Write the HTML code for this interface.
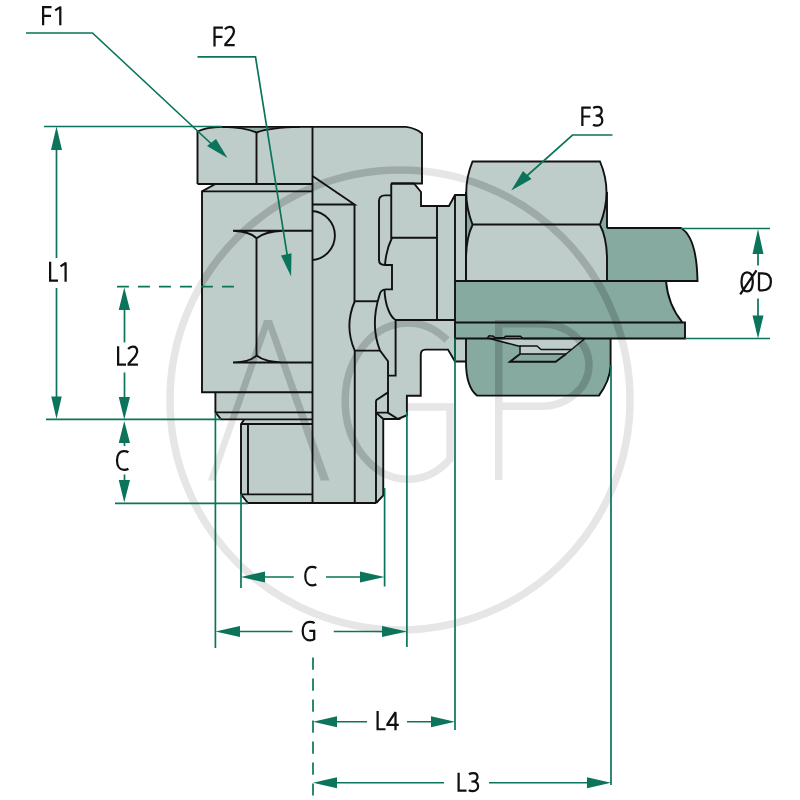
<!DOCTYPE html>
<html><head><meta charset="utf-8">
<style>
html,body{margin:0;padding:0;background:#fff;width:800px;height:800px;overflow:hidden}
svg{display:block}
</style></head><body>
<svg width="800" height="800" viewBox="0 0 800 800">
<rect width="800" height="800" fill="#fff"/>

<defs>
<g id="wm">
  <circle cx="400" cy="400" r="230" fill="none" stroke-width="7.5"/>
  <path fill="none" stroke-width="7.5" d="M447,340 A62.7,78.15 0 1 0 450,459 V407 H408"/>
  <path fill="none" stroke-width="7.5" d="M498.75,480 V323.75 H541 A48,41.25 0 0 1 541,406.25 H498.75"/>
  <path stroke="none" d="M264,320 H272 L329.5,480.6 H320.75 L268.1,329 L214.9,480.6 H207.9 Z"/>
</g>
<clipPath id="silclip"><path d="M197.5,184 V131.5 Q206,127.2 222,126.9 L406,126.9 Q416,128.2 422,133.5 V183.5 H414 L421,192 V206 H449 L455,195 H466 V192.75 Q466.25,176.5 472.5,161.5 H600 Q606.5,176.5 606.5,192.75 V228 H681 C691,234 697,252 697.5,281 H666 Q668,305 682.5,322.5 H685 V338.5 H610.6 V366 C610,378 606,386 598.9,395.6 H477 C470,390 466,378 466,362 V361.5 H455 L448,349.6 H425.5 Q420.75,349.6 420.75,355 V395.75 H406.9 V415.25 L397.9,419 H383.25 V495.5 L376.25,503 H248 L241,494.4 V424 L244,419.9 H221 L215.4,412.4 V392.25 H202 V191.4 L215.4,184 Z"/></clipPath>
</defs>
<!-- watermark on white -->
<use href="#wm" stroke="#e6e6e6" fill="#e6e6e6"/>
<!-- light gray silhouette -->
<path fill="#bfcdca" d="M197.5,184 V131.5 Q206,127.2 222,126.9 L406,126.9 Q416,128.2 422,133.5 V183.5 H414 L421,192 V206 H449 L455,195 H466 V192.75 Q466.25,176.5 472.5,161.5 H600 Q606.5,176.5 606.5,192.75 V228 H681 C691,234 697,252 697.5,281 H666 Q668,305 682.5,322.5 H685 V338.5 H610.6 V366 C610,378 606,386 598.9,395.6 H477 C470,390 466,378 466,362 V361.5 H455 L448,349.6 H425.5 Q420.75,349.6 420.75,355 V395.75 H406.9 V415.25 L397.9,419 H383.25 V495.5 L376.25,503 H248 L241,494.4 V424 L244,419.9 H221 L215.4,412.4 V392.25 H202 V191.4 L215.4,184 Z"/>

<!-- dark green fills -->
<g fill="#86aaa0">
  <path d="M607,228 H681 C691,234 697,252 697.5,281 H607 Z"/>
  <path d="M455,281 H666 Q668,305 682.5,322.5 H685 V338.5 H455 Z"/>
  <path d="M466,338.5 H610.6 V366 C610,378 606,386 598.9,395.6 H477 C470,390 466,378 466,362 Z"/>
  <path d="M466,192 Q467,212 472.5,224.5 Q466,238 466,250 Z"/>
  <path d="M607,192 Q606,212 600,224.5 Q607,238 607,250 Z"/>
  <path d="M238,126.9 Q250,128.5 256.5,132.5 Q264,128.5 280,126.9 Z" fill="#94b1a7"/>
</g>
<!-- ring -->
<path fill="#bfcdca" stroke="#111" stroke-width="1.5" stroke-linejoin="round" d="M487.5,338 L489,335.8 L493.5,336.2 L495,337.8 L504,337.8 L505.5,336.2 L520.5,336.2 L522.75,338.5 L585,338.5 L566,354 L520,354 V346 L518.25,346 Z"/>

<!-- watermark over part -->
<g clip-path="url(#silclip)" opacity="0.17"><use href="#wm" stroke="#000" fill="#000"/></g>
<!-- black outlines -->
<g fill="none" stroke="#111" stroke-width="1.9" stroke-linejoin="miter">
  <!-- F1 nut -->
  <path d="M197.5,184 V131.5 Q206,127.2 222,126.9 H406 Q416,128.2 422,133.5 V183.5 H391"/>
  <path d="M197.5,184 H312.5"/>
  <path d="M222,126.9 Q245,127.4 256.5,132.5 Q270,127.4 300,126.9"/>
  <path d="M256.5,132.5 V184"/>
  <!-- F2 body -->
  <path d="M215.4,184 L202,191.4 V392.25 H312.5"/>
  <path d="M202,191.4 H312.5"/>
  <path d="M233,230.8 H312.5 M233,230.8 Q250,231.5 256.5,238.3 Q265,231.5 282.7,230.8"/>
  <path d="M256.5,238.3 V355.6"/>
  <path d="M233,362.5 H312.5 M233,362.5 Q250,362 256.5,355.6 Q265,362 282,362.5"/>
  <!-- collar + thread -->
  <path d="M215.4,392.25 V412.4 L221,419.4 H312.5 M215.4,412.4 H312.5"/>
  <path d="M244,419.9 L241,424 V494.4 L248,503 H376.25 M241,424 H312.5 M248,424 V494.4 M241,494.4 H312.5"/>
  <!-- central column -->
  <path d="M312.5,126.9 V503"/>
  <path d="M312.5,176 L354.5,204.5 H312.5 M354.5,204.5 V301.25 M354.75,350.6 V503"/>
  <path d="M312.5,211 A24.6,24.6 0 0 1 312.5,260"/>
  <path d="M354.75,301.25 H378"/>
  <!-- middle hex -->
  <path d="M354.75,301.25 Q344,326 354.75,350.6 H380"/>
  <path d="M386,289.4 Q380.5,289.6 379.5,295 Q370,325 380,350.6 L388,361.25 V412.6"/>
  <path d="M376,400.25 L388,392.4 M376,400.25 V503 M376,412.6 H388 M376,412.6 L383.25,419 V495.5 L376.25,503"/>
  <path d="M387.75,412.6 L397.9,419 H383.25 M397.9,419 L406.9,415.25 V395.75 H420.75 V355 Q420.75,349.6 425.5,349.6 H448 L455,361.5 H466"/>
  <!-- rounded bar -->
  <path d="M391.25,195.4 H385 Q379,195.4 379,201 V260 Q379,265 385,265 H392 V289.4 H386"/>
  <!-- block -->
  <path d="M391.25,183.5 V237.75 H437 M391.25,183.5 H414 L421,192 V206 H449 L455,195 H466"/>
  <path d="M391.9,238 Q386,250 385,265"/>
  <path d="M437,206 V320 M384.5,289.6 C385,305 390,317 395.6,320 V375.6 H388 M395.6,320 H455"/>
  <path d="M455,195 V361"/>
  <!-- F3 nut -->
  
  <path d="M472.5,161.5 Q460,192 472.5,224.5 H600 Q613,192 600,161.5 Z"/>
  <path d="M472.5,225 Q466,238 466,260 V280 M600,225 Q607,238 607,260 V280"/>
  <path d="M466,192 V280 M607,192 V228"/>
  <!-- tube -->
  <path d="M607,228 H681 C691,234 697,252 697.5,281 H455"/>
  <path d="M666,281 Q668,305 682.5,322.5 H685 V338.5 H455 M455,322.5 H682.5"/>
  <!-- lower nut -->
  <path d="M466,338.5 V362 C466,378 470,390 477,395.6 H598.9 C606,386 610,378 610.6,366 V338.5"/>
  <!-- ring -->
  <path d="M520,346 H537 L541,349.5 H571.5" stroke-width="1.5"/>
  <path d="M520,354 L510,361.7 H555.7 L566,354"/>
</g>

<!-- green dimension lines -->
<g fill="none" stroke="#0b745a" stroke-width="1.7">
  <path d="M26,33 H92.5 L219,151"/>
  <path d="M197.5,56.8 H255.5 L288,260"/>
  <path d="M612.5,135 H572.5 L520,182"/>
  <path d="M44,126.5 H222"/>
  <path d="M56.5,140 V258 M56.5,288 V405"/>
  <path d="M117,286.7 H234" stroke-dasharray="11.9,9.1"/>
  <path d="M124.5,300 V342.5 M124.5,372.5 V405"/>
  <path d="M46,419.4 H221"/>
  <path d="M124.5,430 V446 M124.5,474.5 V490"/>
  <path d="M115,503.4 H248"/>
  <path d="M215.4,413 V648 M241,494 V588 M384.6,488 V586.5 M406.9,412 V647 M455,338.5 V730 M611,365 V785"/>
  <path d="M250,577 H293.75 M326,577 H372"/>
  <path d="M225,631.5 H292.5 M333.75,631.5 H395"/>
  <path d="M313,657.5 V795.5" stroke-dasharray="12.2,8.8"/>
  <path d="M325,721.75 H367 M407,721.75 H443"/>
  <path d="M325,782.75 H444 M489,782.75 H600"/>
  <path d="M681,228.5 H770 M685,338.5 H770"/>
  <path d="M758,252 V265.5 M758,298.5 V317"/>
</g>
<g fill="#0b745a">
  <!-- arrowheads -->
  <path d="M227.5,158 L207,146 L216,139 Z"/>
  <path d="M291.1,276.5 L281,255.5 L291.5,253.25 Z"/>
  <path d="M511.25,190.6 L523,171 L531.5,179 Z"/>
  <path d="M56.5,126.5 L51,150 H62 Z M56.5,419 L51.25,396.5 H61.75 Z"/>
  <path d="M124.25,287.5 L118.75,310 H130 Z M124.25,419.4 L118.75,397 H130 Z"/>
  <path d="M124.25,421 L118.75,443 H130 Z M124.25,502.5 L118.75,480 H130 Z"/>
  <path d="M241,577 L265,571.5 V582.5 Z M384.6,577 L360,571.5 V582.5 Z"/>
  <path d="M215.4,631.5 L240,626 V637 Z M406.9,631.5 L382,626 V637 Z"/>
  <path d="M313,721.75 L337,716.25 V727.25 Z M455,721.75 L431,716.25 V727.25 Z"/>
  <path d="M313,782.75 L337,777.25 V788.25 Z M611,782.75 L587,777.25 V788.25 Z"/>
  <path d="M758,229 L752.5,254 H763.5 Z M758,338.5 L752.5,315.5 H763.5 Z"/>
</g>

<!-- labels -->
<defs>
  <path id="gF" d="M1.12,20 V1.12 H9.5 M1.12,10.3 H9"/>
  <path id="g1" d="M5.8,20 V0.6 M6.2,0.9 L0.7,4.6"/>
  <path id="g2" d="M0.9,3.0 C2.5,1.2 4.0,0.6 5.6,0.6 C8.6,0.6 9.9,2.6 9.9,5.2 C9.9,8.4 7.8,10.8 4.6,14.2 L1.4,17.8 V18.9 H10.7"/>
  <path id="g3" d="M1.0,1.8 C2.2,1.0 3.8,0.6 5.3,0.6 C8.2,0.6 9.5,2.3 9.5,4.8 C9.5,7.6 7.3,9.4 4.4,9.4 H3.4 M4.4,9.4 C7.9,9.4 10.1,11.3 10.1,14.3 C10.1,17.3 7.8,19.4 4.8,19.4 C3.1,19.4 1.6,19 0.8,18.4"/>
  <path id="gL" d="M1.12,0 V18.88 H9"/>
  <path id="gC" d="M12.5,1.8 C11.3,1.0 9.8,0.6 8.0,0.6 C3.6,0.6 1.1,4.2 1.1,10.1 C1.1,15.9 3.9,19.4 8.1,19.4 C9.7,19.4 11.4,19.0 12.5,18.3"/>
  <path id="gG" d="M13,1.9 C11.8,1.1 10.2,0.6 8.2,0.6 C3.8,0.6 1.1,4.3 1.1,10.1 C1.1,16 3.9,19.4 8.3,19.4 C10.3,19.4 11.8,18.9 12.6,18.3 V9.9 H7.7"/>
  <path id="g4" d="M9,20 V1.2 L0.9,13.9 V14.3 H12.25"/>
  <path id="gO" d="M7.85,2.0 C4.3,2.0 2.2,5.5 2.2,11.55 C2.2,17.6 4.3,21.1 7.85,21.1 C11.4,21.1 13.5,17.6 13.5,11.55 C13.5,5.5 11.4,2.0 7.85,2.0 Z M0.9,24 L17.2,0"/>
  <path id="gD" d="M1.1,19 V1.1 H4.6 C10.2,1.1 13.0,4.2 13.0,9.9 C13.0,15.7 10.2,18.9 4.6,18.9 H1.1"/>
</defs>
<g fill="none" stroke="#111" stroke-width="2.25" stroke-linejoin="miter" stroke-miterlimit="2.5">
  <use href="#gF" transform="translate(42,6) scale(1,0.96)"/>
  <use href="#g1" transform="translate(54.5,6) scale(1,0.96)"/>
  <use href="#gF" transform="translate(213.4,26.6)"/>
  <use href="#g2" transform="translate(224,26.3)"/>
  <use href="#gF" transform="translate(581.25,106.5) scale(1,0.97)"/>
  <use href="#g3" transform="translate(592.2,106.2)"/>
  <use href="#gL" transform="translate(49,261.8)"/>
  <use href="#g1" transform="translate(59.8,261.8)"/>
  <use href="#gL" transform="translate(117,346.3) scale(1,0.975)"/>
  <use href="#g2" transform="translate(127.25,346.1) scale(1,0.985)"/>
  <use href="#gC" transform="translate(115.9,450.5)"/>
  <use href="#gC" transform="translate(304.2,566.2) scale(0.97,0.985)"/>
  <use href="#gG" transform="translate(301.6,621.2) scale(1,0.985)"/>
  <use href="#gL" transform="translate(376.5,711) scale(1,0.965)"/>
  <use href="#g4" transform="translate(386.5,711) scale(1,0.965)"/>
  <use href="#gL" transform="translate(457.5,772.75) scale(1,0.95)"/>
  <use href="#g3" transform="translate(468,772.5) scale(1,0.96)"/>
  <use href="#gO" transform="translate(739.3,270.3)"/>
  <use href="#gD" transform="translate(757.9,272.3) scale(1,0.955)"/>
</g>
</svg>
</body></html>
